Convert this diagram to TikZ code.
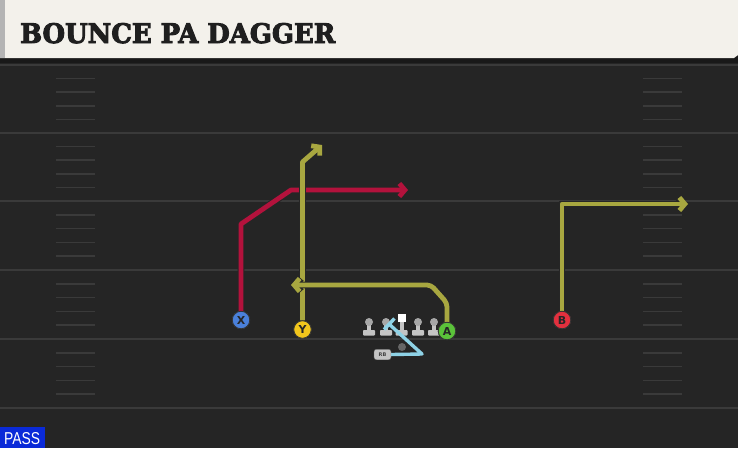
\documentclass[tikz,border=0pt]{standalone}
\usepackage{fontspec}
\usetikzlibrary{arrows.meta}
\newfontfamily\headfont{DejaVu Serif}[BoldFeatures={FakeBold=3.5}]
\newfontfamily\labfont{DejaVu Sans}
\newfontfamily\passfont{Liberation Sans}
\definecolor{fieldbg}{HTML}{252525}
\definecolor{yardc}{HTML}{3A3A3A}
\definecolor{hashc}{HTML}{3A3A3A}
\definecolor{headbg}{HTML}{F3F1EB}
\definecolor{headedge}{HTML}{B4B4B4}
\definecolor{redr}{HTML}{B3123C}
\definecolor{olive}{HTML}{A8A740}
\definecolor{lblue}{HTML}{8ED2E6}
\definecolor{xblue}{HTML}{4A80DA}
\definecolor{yyel}{HTML}{F2C61C}
\definecolor{agreen}{HTML}{5BC23A}
\definecolor{bred}{HTML}{E2303E}
\definecolor{passblue}{HTML}{0A2AD8}
\definecolor{olgray}{HTML}{C4C4C4}
\tikzset{
  yardline/.style={draw=yardc, line width=2pt},
  hashmark/.style={draw=hashc, line width=1.6pt},
  route/.style={line width=4.8pt, line join=round, line cap=butt,
     preaction={draw=black!85, line width=6.8pt}},
  tip/.style={-{Straight Barb[length=5.5pt,width=13pt]}},
  player/.style={circle, draw=black!80, line width=0.8pt, minimum size=17.5pt, inner sep=0pt,
     font=\labfont\bfseries\fontsize{11}{11}\selectfont, text=black!85},
  olbody/.style={fill=olgray},
}
\begin{document}
\begin{tikzpicture}[x=1pt,y=-1pt]
\useasboundingbox (0,0) rectangle (738,448);
\fill[fieldbg] (0,0) rectangle (738,448);
% yard lines
\foreach \yy in {65,133,201,270,339,408} \draw[yardline] (0,\yy) -- (738,\yy);
% hash marks
\foreach \a/\b in {65/133,133/201,201/270,270/339,339/408}{
  \foreach \k in {1,2,3,4}{
    \pgfmathsetmacro\hy{\a+(\b-\a)*\k/5}
    \draw[hashmark] (56,\hy) -- (95,\hy);
    \draw[hashmark] (643,\hy) -- (682,\hy);
  }
}
% header
\fill[black!90] (0,56) rectangle (738,63);
\fill[headbg] (0,0) -- (738,0) -- (738,55) -- (734,58) -- (0,58) -- cycle;
\fill[headedge] (0,0) rectangle (5,58);
\node[anchor=base west, inner sep=0pt, text=black!88] (title) at (20,43)
  {\resizebox{315pt}{20pt}{\headfont\bfseries BOUNCE PA DAGGER}};
% offensive line
\foreach \xx in {369,386,418,434}{
  \fill[olbody] (\xx-2,324) rectangle (\xx+2,331);
  \fill[olbody, rounded corners=0.8pt] (\xx-6,330) rectangle (\xx+6,335.5);
  \fill[olgray!85!black] (\xx,322) circle (4pt);
}
\fill[olbody] (401.5-2,320) rectangle (401.5+2,331);
\fill[olbody, rounded corners=0.8pt] (401.5-6,330) rectangle (401.5+6,335.5);
\fill[white] (398,314) rectangle (405.5,321.5);
% QB and RB
\fill[black!60] (402,347) circle (4pt);
\node[fill=olgray, draw=black!60, rounded corners=2.5pt, minimum width=17pt, minimum height=10.5pt,
  inner sep=0pt, font=\labfont\bfseries\fontsize{5}{5}\selectfont, text=black!75] (RB) at (382.5,354.5) {RB};
% blue route
\coordinate (bt) at (389,324);
\draw[lblue, line width=3.4pt, line join=round] (RB.east) -- (422,354) -- (bt);
\draw[lblue, line width=3.4pt] (384,329.5) -- (394.5,318.5);
% players
\node[player, fill=xblue] (X) at (241,320) {X};
\node[player, fill=yyel] (Y) at (302.5,329.5) {Y};
\node[player, fill=agreen] (A) at (447,331) {A};
\node[player, fill=bred] (B) at (562,320) {B};
% routes
\draw[route, redr, tip] (X.north) -- (241,224) -- (291,190) -- (408,190);
\draw[route, olive, tip] (Y.north) -- (302.5,162) -- (322,145);
\draw[route, olive, tip, rounded corners=4pt] (A.north) -- (447,303) -- (431,285) -- (291,285);
\draw[route, olive, tip] (B.north) -- (562,204) -- (688,204);
% redraw players on top
\node[player, fill=xblue] at (X) {X};
\node[player, fill=yyel] at (Y) {Y};
\node[player, fill=agreen] at (A) {A};
\node[player, fill=bred] at (B) {B};
% pass tag
\fill[passblue] (0,427) rectangle (45,448);
\node[anchor=base west, inner sep=0pt, text=white] (pass) at (4,444)
  {\resizebox{36pt}{12pt}{\passfont PASS}};
\end{tikzpicture}
\end{document}
